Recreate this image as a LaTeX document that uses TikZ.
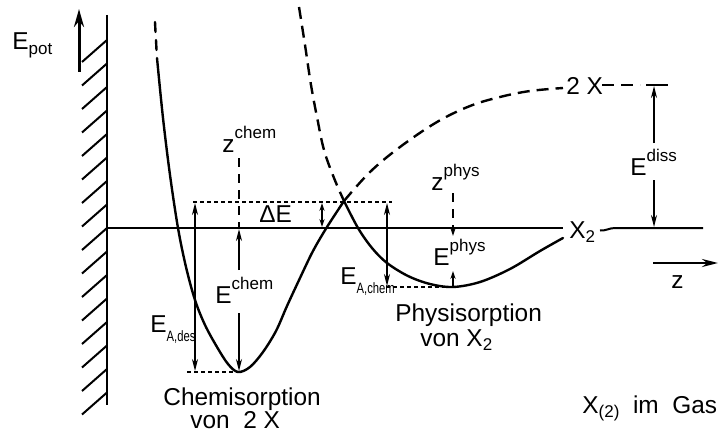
\documentclass[tikz,border=0pt]{standalone}
\usepackage{fontspec}
\setmainfont{Liberation Sans}
\usetikzlibrary{arrows.meta}
\newcommand\hisup[1]{\raisebox{1.05ex}{\fontsize{8.5}{9}\selectfont #1}}
\newcommand\losub[1]{\raisebox{-0.35ex}{\fontsize{8.5}{9}\selectfont #1}}
\newcommand\tinysub[1]{\raisebox{-0.75ex}{\scalebox{0.75}[1]{\fontsize{7.5}{8}\selectfont #1}}}
\begin{document}
\begin{tikzpicture}[x=0.5pt,y=-0.5pt,
  curve/.style={line width=1.2pt,line join=round,line cap=round},
  dcurve/.style={line width=1.2pt,dash pattern=on 6pt off 3.5pt},
  dotline/.style={line width=0.8pt,dash pattern=on 2pt off 1.5pt},
  dvert/.style={line width=0.9pt,dash pattern=on 4.5pt off 3.5pt},
  axis/.style={line width=1pt},
  hatch/.style={line width=1pt},
  dimarrow/.style={line width=0.8pt,-{Stealth[length=6pt,width=3pt]}},
  dimboth/.style={line width=0.8pt,{Stealth[length=6pt,width=3pt]}-{Stealth[length=6pt,width=3pt]}},
  smallboth/.style={line width=0.8pt,{Stealth[length=4pt,width=2.6pt]}-{Stealth[length=4pt,width=2.6pt]}},
  smallarrow/.style={line width=0.8pt,-{Stealth[length=4pt,width=2.6pt]}},
  lbl/.style={anchor=base west,inner sep=0pt,font=\fontsize{12.2}{14}\selectfont}]
\useasboundingbox (0,0) rectangle (722,433);

% wall
\coordinate (wtop) at (107,15);
\coordinate (wbot) at (107,405);
\draw[axis,line width=1.2pt] (wtop) -- (wbot);
\foreach \k in {0,...,15}{
  \draw[hatch] (107,40+23.5*\k) -- (82,62+23.5*\k);
}

% E_pot axis arrow
\coordinate (epb) at (79,72);
\coordinate (ept) at (79,9);
\draw[line width=1.5pt,-{Stealth[length=9pt,width=5pt]}] (epb) -- (ept);
\node[lbl] (epot) at (12,50) {E\losub{pot}};

% zero line
\coordinate (z0l) at (107,228);
\coordinate (z0r) at (563,228);
\draw[axis] (z0l) -- (z0r);
\node[lbl] (xtwo) at (569,238) {X\losub{2}};
\coordinate (r0a) at (600,230.5);
\coordinate (r0b) at (615,228);
\coordinate (r0c) at (703,228);
\draw[axis] (r0a) to[out=-5,in=180] (r0b) -- (r0c);

% chemisorption curve (solid left branch)
\draw[curve] (155,22) -- (155.5,32);
\draw[curve] (156,40) -- (156.5,50);
\coordinate (cross) at (344,201);
\coordinate (chemmin) at (238,372);
\draw[curve] plot[smooth,tension=0.55] coordinates {(157,58) (163,118) (170,175) (178,228) (186,267) (195,300) (205,325) (217,347) (228,364) (238,372) (250,367) (263,352) (276,331) (287,306) (300,278) (313,251) (327,227) (344,201)};
% dashed continuation to 2X
\draw[dcurve] plot[smooth,tension=0.6] coordinates {(344,201) (370,172) (400,147) (437,122) (470,106) (500,97) (530,91) (563,88)};
\node[lbl] (twox) at (566,95) {2 X};
\coordinate (dxa) at (602,85);
\coordinate (dxb) at (640,85);
\draw[dcurve] (dxa) -- (dxb);
\coordinate (ttl) at (646,85);
\coordinate (ttr) at (668,85);
\draw[line width=0.9pt] (ttl) -- (ttr);

% physisorption curve
\draw[dcurve] plot[smooth,tension=0.6] coordinates {(299,7) (305,45) (311,85) (317,117) (324,150) (334,178) (344,201)};
\coordinate (physmin) at (453,287);
\draw[curve] plot[smooth,tension=0.55] coordinates {(344,201) (358,228) (372,248) (387,263) (408,276) (430,284) (453,287) (480,282) (510,269) (540,251) (563,238)};

% Delta E dotted level
\coordinate (dl) at (193,202);
\coordinate (dr) at (392,202);
\draw[dotline] (dl) -- (dr);
\node[lbl] (de) at (259,222) {ΔE};
\coordinate (dea) at (322,203);
\coordinate (deb) at (322,227);
\draw[smallboth] (dea) -- (deb);

% z chem
\node[lbl] (zchem) at (222,152) {z\hisup{chem}};
\coordinate (zca) at (239,158);
\coordinate (zcb) at (239,228);
\draw[dvert] (zca) -- (zcb);
% E chem
\node[lbl] (echem) at (215,303) {E\hisup{chem}};
\coordinate (eca) at (239,270);
\coordinate (ecb) at (239,229);
\draw[dimarrow] (eca) -- (ecb);
\coordinate (ecc) at (239,313);
\coordinate (ecd) at (239,371);
\draw[dimarrow] (ecc) -- (ecd);

% E_A,des
\coordinate (ada) at (195,203);
\coordinate (adb) at (195,371);
\draw[dimboth] (ada) -- (adb);
\node[lbl] (eades) at (150,332) {E\tinysub{A,des}};
\coordinate (cml) at (187,372);
\draw[dotline] (cml) -- (chemmin);

% E_A,chem
\coordinate (aca) at (387,203);
\coordinate (acb) at (387,286);
\draw[dimboth] (aca) -- (acb);
\node[lbl] (eachem) at (340,284) {E\tinysub{A,chem}};
\coordinate (pml) at (386,287);
\draw[dotline] (pml) -- (physmin);

% z phys / E phys
\node[lbl] (zphys) at (431,190) {z\hisup{phys}};
\coordinate (zpa) at (453,193);
\coordinate (zpb) at (453,228);
\draw[dvert] (zpa) -- (zpb);
\coordinate (epa) at (453,236);
\draw[smallarrow] (zpb) -- (epa);
\coordinate (epc) at (453,271);
\draw[smallarrow] (physmin) -- (epc);
\node[lbl] (ephys) at (433,265) {E\hisup{phys}};

% E diss
\coordinate (eda) at (654,143);
\coordinate (edb) at (654,86);
\coordinate (edc) at (654,180);
\coordinate (edd) at (654,227);
\draw[dimarrow] (eda) -- (edb);
\draw[dimarrow] (edc) -- (edd);
\node[lbl] (ediss) at (630,175) {E\hisup{diss}};

% z axis
\coordinate (zza) at (653,263);
\coordinate (zzb) at (718,263);
\draw[line width=1.3pt,-{Stealth[length=8pt,width=4pt]}] (zza) -- (zzb);
\node[lbl] (zlab) at (671,288) {z};

% captions
\node[lbl] (chem1) at (163,405) {Chemisorption};
\node[lbl] (chem2) at (190,428) {von\ \ 2 X};
\node[lbl] (phys1) at (395,321) {Physisorption};
\node[lbl] (phys2) at (420,346) {von X\losub{2}};
\node[lbl] (gas) at (582,413) {X\losub{(2)}\ \ im\ \ Gas};
\end{tikzpicture}
\end{document}
